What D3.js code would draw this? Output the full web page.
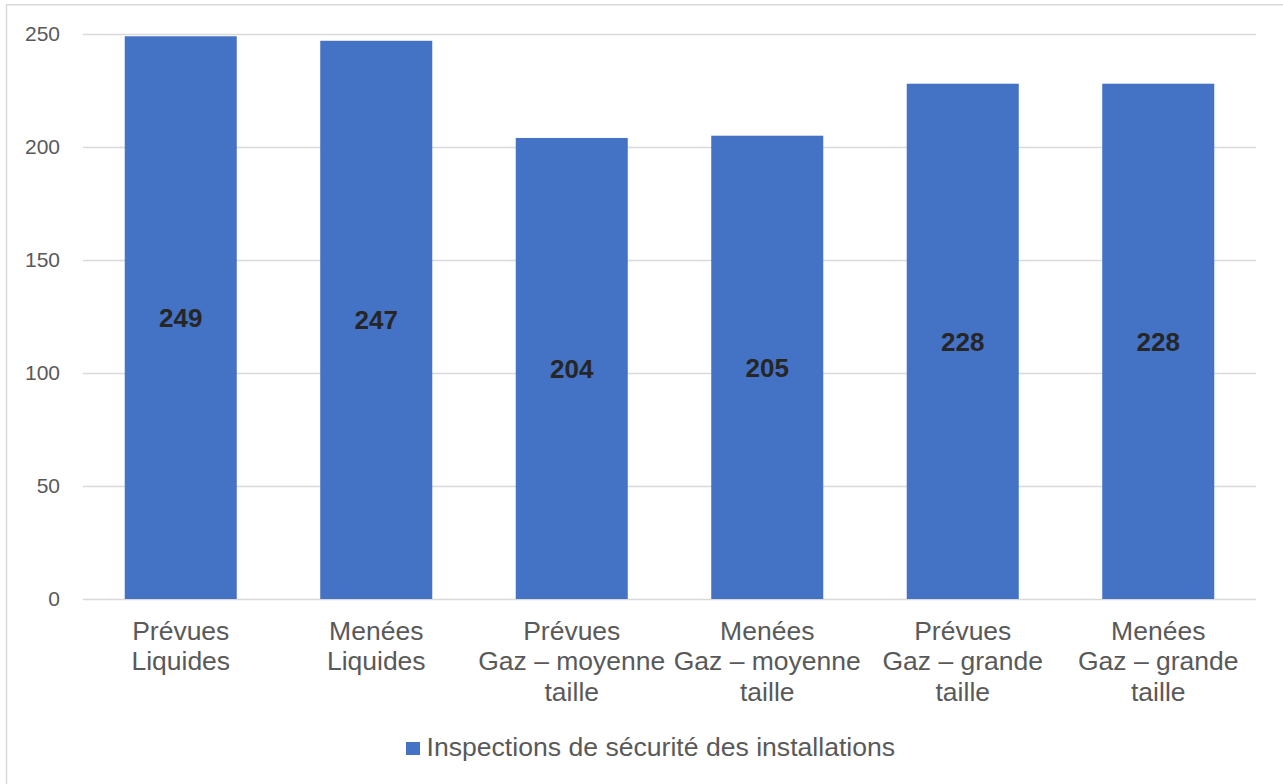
<!DOCTYPE html>
<html lang="fr">
<head>
<meta charset="utf-8">
<script src="https://cdn.jsdelivr.net/npm/d3@7"></script>
<style>
  html, body { margin: 0; padding: 0; background: #fff; }
  svg { display: block; font-family: "Liberation Sans", Arial, sans-serif; }
</style>
</head>
<body>
<div id="chart"></div>
<script>
// Category labels (line breaks marked with \n)
const categories = [
  "Prévues\nLiquides",
  "Menées\nLiquides",
  "Prévues\nGaz – moyenne\ntaille",
  "Menées\nGaz – moyenne\ntaille",
  "Prévues\nGaz – grande\ntaille",
  "Menées\nGaz – grande\ntaille"
];
const values = [249, 247, 204, 205, 228, 228];
const yTicks = [0, 50, 100, 150, 200, 250];
const seriesName = "Inspections de sécurité des installations";

const W = 1283, H = 784;
const plot = { left: 83, right: 1256, top: 34, bottom: 599 };
const barColor = "#4472C4";
const gridColor = "#d9d9d9";
const textColor = "#595959";

const svg = d3.select("#chart").append("svg")
  .attr("width", W).attr("height", H);

// Outer frame of the chart area
svg.append("rect")
  .attr("x", 6.5).attr("y", 4.75)
  .attr("width", W + 20).attr("height", H + 20)
  .attr("fill", "none")
  .attr("stroke", gridColor)
  .attr("stroke-width", 1.5);

const x = d3.scaleBand()
  .domain(categories)
  .range([plot.left, plot.right])
  .paddingInner(0.427)
  .paddingOuter(0.2135);

const y = d3.scaleLinear()
  .domain([0, 250])
  .range([plot.bottom, plot.top]);

// Horizontal gridlines and tick labels
const yAxis = d3.axisLeft(y)
  .tickValues(yTicks)
  .tickSize(-(plot.right - plot.left))
  .tickPadding(23);

const gy = svg.append("g")
  .attr("transform", `translate(${plot.left},0)`)
  .call(yAxis);
gy.select(".domain").remove();
gy.selectAll(".tick line")
  .attr("stroke", gridColor)
  .attr("stroke-width", 1.5);
gy.selectAll(".tick text")
  .attr("fill", textColor)
  .attr("font-size", 21)
  .attr("font-family", "Liberation Sans, Arial, sans-serif");

// Bars
svg.append("g").selectAll("rect")
  .data(values)
  .join("rect")
  .attr("x", (d, i) => x(categories[i]))
  .attr("y", d => y(d))
  .attr("width", x.bandwidth())
  .attr("height", d => y(0) - y(d))
  .attr("fill", barColor);

// Value labels centred in each bar
svg.append("g").selectAll("text")
  .data(values)
  .join("text")
  .attr("x", (d, i) => x(categories[i]) + x.bandwidth() / 2)
  .attr("y", d => (y(d) + y(0)) / 2 + 9.5)
  .attr("text-anchor", "middle")
  .attr("font-size", 26)
  .attr("font-weight", "bold")
  .attr("fill", "#262626")
  .text(d => d);

// Category axis labels (multi-line)
const xAxis = d3.axisBottom(x).tickSize(0).tickFormat("");
const gx = svg.append("g")
  .attr("transform", `translate(0,${plot.bottom})`)
  .call(xAxis);
gx.select(".domain").remove();

gx.selectAll(".tick").each(function(d) {
  const t = d3.select(this).append("text")
    .attr("text-anchor", "middle")
    .attr("fill", textColor)
    .attr("font-size", 26.5)
    .attr("font-family", "Liberation Sans, Arial, sans-serif");
  d.split("\n").forEach((line, i) => {
    t.append("tspan")
      .attr("x", 0)
      .attr("y", 40.5 + i * 30.6)
      .text(line);
  });
});

// Legend
const legend = svg.append("g").attr("transform", "translate(406,742)");
legend.append("rect")
  .attr("width", 14).attr("height", 13)
  .attr("fill", barColor);
legend.append("text")
  .attr("x", 20.5).attr("y", 14)
  .attr("fill", textColor)
  .attr("font-size", 26.6)
  .text(seriesName);
</script>
</body>
</html>
